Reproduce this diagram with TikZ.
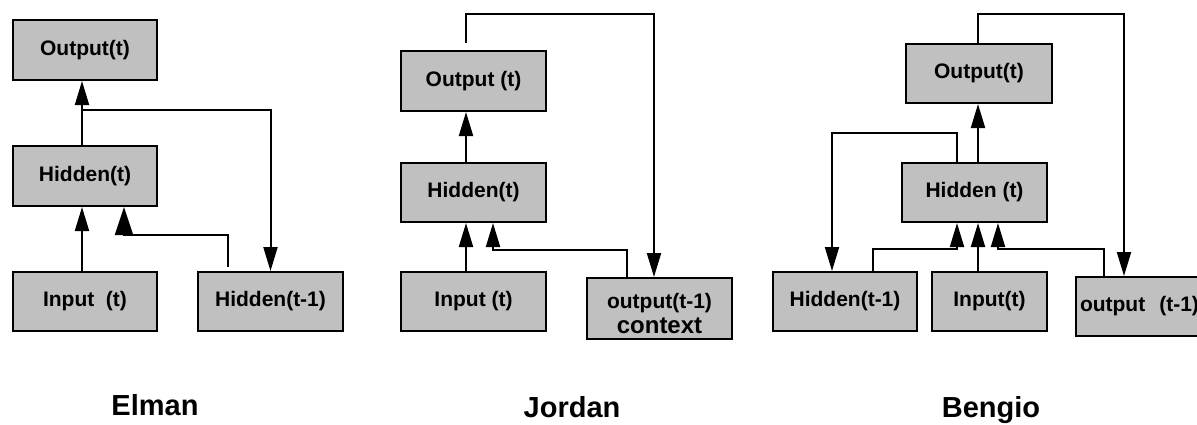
\documentclass[tikz,border=0pt]{standalone}
\usepackage{fontspec}
\setmainfont{Liberation Sans}
\usetikzlibrary{arrows.meta}
\definecolor{boxgray}{HTML}{C0C0C0}
\begin{document}
\begin{tikzpicture}[x=1pt,y=-1pt,
  box/.style={draw=black, line width=2pt, fill=boxgray, inner sep=0pt,
    font=\bfseries\fontsize{21}{24}\selectfont},
  arr/.style={line width=2pt, line join=miter, -{Triangle[length=24pt,width=14pt]}},
  arrbig/.style={line width=2pt, line join=miter, -{Triangle[length=28pt,width=18pt]}},
  title/.style={font=\bfseries\fontsize{29}{32}\selectfont, anchor=base}]
\useasboundingbox (0,0) rectangle (1197,424);
\clip (0,0) rectangle (1197,424);

% ---------------- Elman ----------------
\node[box, minimum width=144pt, minimum height=60pt] (eo) at (85,50) {Output(t)};
\node[box, minimum width=144pt, minimum height=60pt] (eh) at (85,176) {Hidden(t)};
\node[box, minimum width=144pt, minimum height=59pt] (ei) at (85,301.5) {Input\ \ (t)};
\node[box, minimum width=145pt, minimum height=59pt] (eh1) at (270.5,301.5) {Hidden(t-1)};

\coordinate (ex) at (82,110);
\draw[arr] (eh.north -| ex) -- (eo.south -| ex);
\draw[arr] (ex) -| (eh1.north);
\draw[arr] (ei.north -| ex) -- (eh.south -| ex);
\coordinate (ea) at (228,235);
\coordinate (eb) at (124,235);
\draw[arrbig] ([yshift=4pt]eh1.north -| ea) -- (ea) -- (eb) -- (eh.south -| eb);

% ---------------- Jordan ----------------
\node[box, minimum width=145pt, minimum height=60pt] (jo) at (473.5,81) {Output (t)};
\node[box, minimum width=145pt, minimum height=59pt] (jh) at (473.5,192.5) {Hidden(t)};
\node[box, minimum width=145pt, minimum height=59pt] (ji) at (473.5,301.5) {Input (t)};
\node[box, minimum width=145pt, minimum height=61pt, align=center] (jc) at (659.5,308.5)
  {\rule{0pt}{25pt}output(t-1)\\[1pt]{\fontsize{24}{25}\selectfont context}};

\coordinate (jx) at (466,0);
\draw[arr] (jh.north -| jx) -- (jo.south -| jx);
\draw[arr] (ji.north -| jx) -- (jh.south -| jx);
\coordinate (ja) at (627,250);
\coordinate (jb) at (493,250);
\draw[arr] (jc.north -| ja) -- (ja) -- (jb) -- (jh.south -| jb);
\coordinate (jt1) at (466,14);
\coordinate (jt2) at (654,14);
\draw[arr] ([yshift=7pt]jo.north -| jt1) -- (jt1) -- (jt2) -- (jc.north -| jt2);

% ---------------- Bengio ----------------
\node[box, minimum width=146pt, minimum height=59pt] (bo) at (979,73.5) {Output(t)};
\node[box, minimum width=145pt, minimum height=59pt] (bh) at (974.5,192.5) {Hidden (t)};
\node[box, minimum width=144pt, minimum height=59pt] (bh1) at (845,301.5) {Hidden(t-1)};
\node[box, minimum width=115pt, minimum height=59pt] (bi) at (989.5,301.5) {Input(t)};
\node[box, minimum width=150pt, minimum height=59pt, anchor=west, text width=150pt, align=left]
  (bop) at (1075,306.5) {\hspace*{4pt}output\ \ (t-1)};

\coordinate (bx) at (978,0);
\draw[arr] (bh.north -| bx) -- (bo.south -| bx);
\draw[arr] (bi.north -| bx) -- (bh.south -| bx);
\coordinate (ba) at (957,133);
\coordinate (bb) at (832,133);
\draw[arr] (bh.north -| ba) -- (ba) -- (bb) -- (bh1.north -| bb);
\coordinate (bt1) at (978,14);
\coordinate (bt2) at (1124,14);
\draw[arr] (bo.north -| bt1) -- (bt1) -- (bt2) -- (bop.north -| bt2);
\coordinate (bc) at (873,249);
\coordinate (bd) at (957,249);
\draw[arr] (bh1.north -| bc) -- (bc) -- (bd) -- (bh.south -| bd);
\coordinate (be) at (1104,249);
\coordinate (bf) at (998,249);
\draw[arr] (bop.north -| be) -- (be) -- (bf) -- (bh.south -| bf);

% ---------------- Titles ----------------
\node[title] (te) at (155,415) {Elman};
\node[title] (tj) at (572,417) {Jordan};
\node[title] (tb) at (991,417) {Bengio};
\end{tikzpicture}
\end{document}
